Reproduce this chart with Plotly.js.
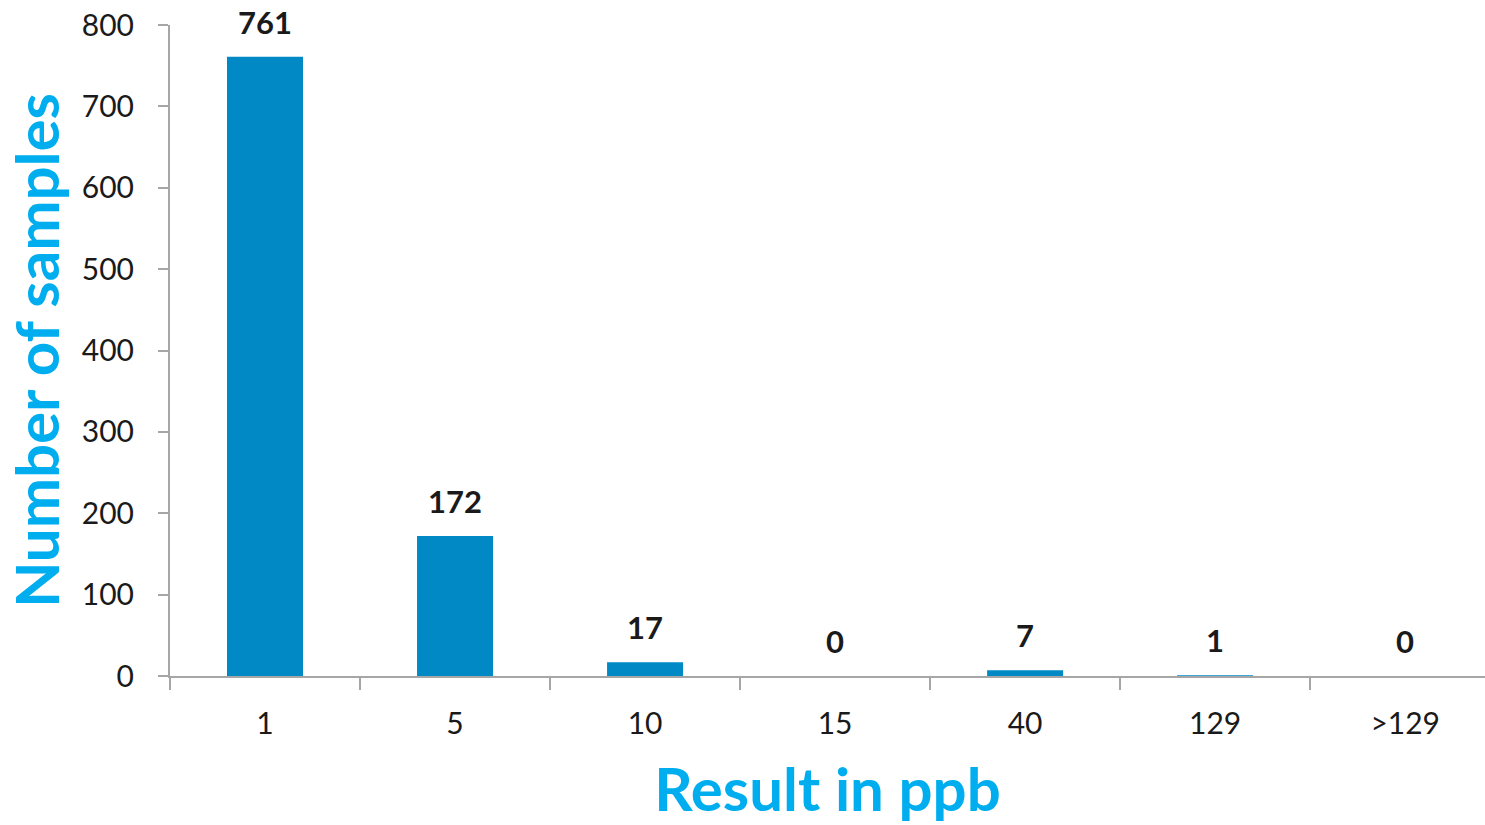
<!DOCTYPE html>
<html>
<head>
<meta charset="utf-8">
<script src="https://cdn.plot.ly/plotly-3.0.1.min.js"></script>
<style>html,body{margin:0;padding:0;background:#fff;overflow:hidden}#chart{width:1485px;height:825px}</style>
</head>
<body>
<div id="chart"></div>
<script>
const categories = ["1", "5", "10", "15", "40", "129", ">129"];
const samples = [761, 172, 17, 0, 7, 1, 0];
const yTicks = [0, 100, 200, 300, 400, 500, 600, 700, 800];

const FONT = "Lato, 'Open Sans', sans-serif";

const trace = {
  type: "bar",
  x: categories,
  y: samples,
  width: 0.4,
  marker: {color: "#0089c4", line: {width: 0}},
  hoverinfo: "x+y"
};

const annotations = categories.map((c, i) => ({
  x: i, y: samples[i], xref: "x", yref: "y",
  text: String(samples[i]),
  showarrow: false, yanchor: "bottom", yshift: 14,
  font: {family: FONT, size: 31, color: "#1a1a1a", weight: "bold"}
}));

const layout = {
  width: 1485, height: 825,
  margin: {l: 170, r: 0, t: 25, b: 149},
  paper_bgcolor: "#fff", plot_bgcolor: "#fff",
  showlegend: false,
  xaxis: {
    type: "category",
    range: [-0.5, 6.42],
    showline: true, linecolor: "#a6a6a6", linewidth: 2,
    ticks: "outside", tickson: "boundaries", ticklen: 12, tickwidth: 2, tickcolor: "#a6a6a6",
    showgrid: false, zeroline: false,
    tickfont: {family: FONT, size: 30, color: "#1a1a1a"},
    ticklabelstandoff: 20,
    title: {text: "Result in ppb", font: {family: FONT, size: 60, color: "#00aeef", weight: "bold"}, standoff: 30}
  },
  yaxis: {
    range: [0, 800],
    tickvals: yTicks,
    showline: true, linecolor: "#a6a6a6", linewidth: 2,
    ticks: "outside", ticklen: 10, tickwidth: 2, tickcolor: "#a6a6a6",
    showgrid: false, zeroline: false,
    tickfont: {family: FONT, size: 30, color: "#1a1a1a"},
    ticklabelstandoff: 18,
    title: {text: "Number of samples", font: {family: FONT, size: 60, color: "#00aeef", weight: "bold"}, standoff: 20}
  },
  annotations: annotations
};

Plotly.newPlot("chart", [trace], layout, {displayModeBar: false, staticPlot: true});
</script>
</body>
</html>
